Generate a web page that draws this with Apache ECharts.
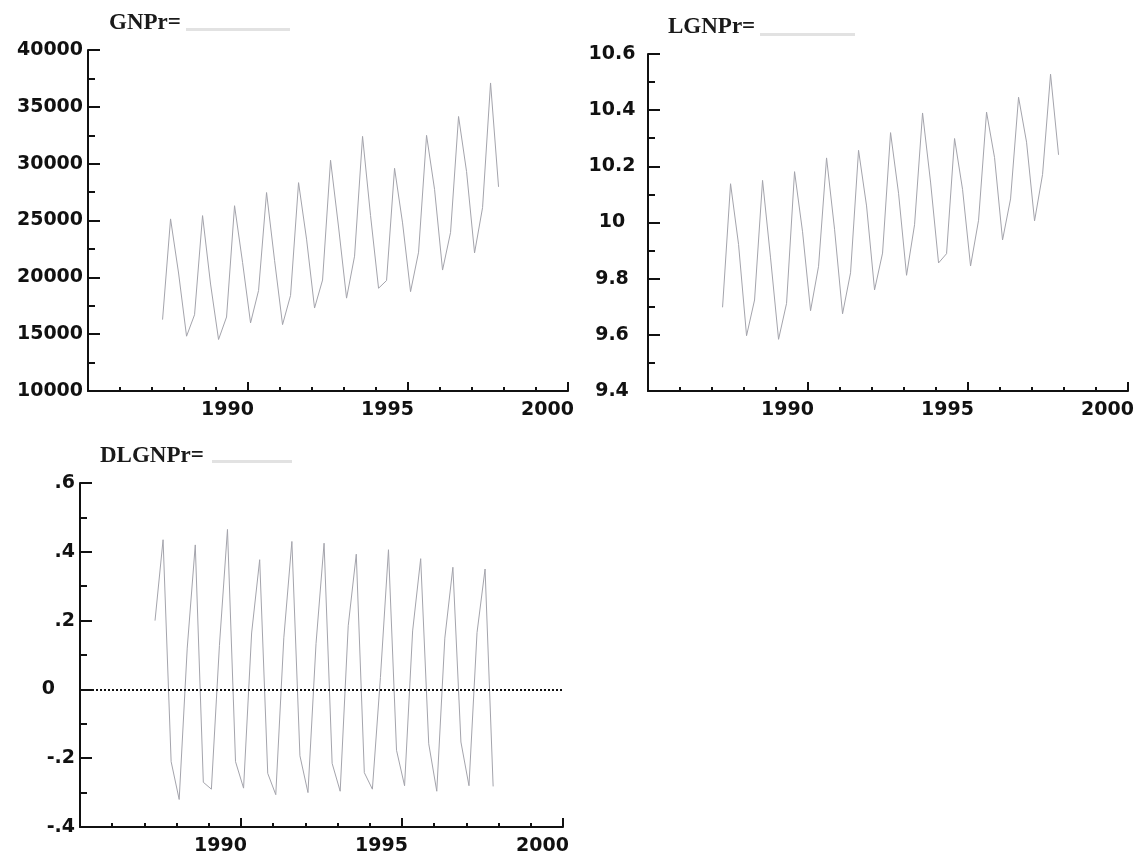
<!DOCTYPE html>
<html>
<head>
<meta charset="utf-8">
<script src="https://cdn.jsdelivr.net/npm/echarts@6/dist/echarts.min.js"></script>
<style>
html, body { margin: 0; padding: 0; background: #fff; }
#main { width: 1141px; height: 858px; }
</style>
</head>
<body>
<div id="main"></div>
<script>
// quarterly sample, 1987Q2 .. 1997Q4
var firstYear = 1987;
var firstQuarter = 2;

var gnpr = [
    16280, 25140, 20380,
    14820, 16710, 25430, 19410,
    14530, 16510, 26300, 21320,
    15990, 18840, 27460, 21500,
    15840, 18410, 28330, 23360,
    17300, 19760, 30300, 24430,
    18170, 21860, 32400, 25430,
    19040, 19720, 29590, 24790,
    18740, 22210, 32490, 27740,
    20640, 23950, 34150, 29310,
    22150, 26130, 37100, 27960
];

var lgnpr = [
    9.698, 10.138, 9.922,
    9.597, 9.724, 10.150, 9.874,
    9.584, 9.712, 10.181, 9.967,
    9.686, 9.844, 10.230, 9.976,
    9.675, 9.821, 10.257, 10.059,
    9.760, 9.891, 10.320, 10.104,
    9.812, 9.992, 10.390, 10.144,
    9.856, 9.889, 10.299, 10.118,
    9.845, 10.008, 10.393, 10.231,
    9.938, 10.084, 10.446, 10.286,
    10.006, 10.171, 10.528, 10.241
];

var dlgnpr = [
    0.200, 0.435, -0.210,
    -0.320, 0.120, 0.420, -0.270,
    -0.290, 0.128, 0.465, -0.210,
    -0.287, 0.164, 0.377, -0.244,
    -0.306, 0.150, 0.430, -0.193,
    -0.300, 0.133, 0.425, -0.215,
    -0.296, 0.185, 0.393, -0.242,
    -0.290, 0.035, 0.406, -0.177,
    -0.280, 0.170, 0.380, -0.158,
    -0.296, 0.149, 0.355, -0.153,
    -0.280, 0.165, 0.350, -0.282
];

var titles = ['GNPr=', 'LGNPr=', 'DLGNPr='];

// time index of each observation (plotted a little into the quarter)
var periods = [];
for (var i = 0; i < gnpr.length; i++) {
    var q = firstQuarter - 1 + i;
    periods.push(firstYear + Math.floor(q / 4) + (q % 4) / 4 + 0.08);
}
function pairs(vals) {
    return vals.map(function (v, i) { return [periods[i], v]; });
}

var ink = '#111';
var lineCol = '#a4a4ac';
var labelFont = { fontFamily: 'DejaVu Sans', fontWeight: 'bold', fontSize: 19, color: ink };
var titleFont = { fontFamily: 'Liberation Serif', fontWeight: 'bold', fontSize: 23, color: '#1a1a1a' };

function plain(v) { return String(v); }

function xAxis(idx) {
    return {
        type: 'value', gridIndex: idx, min: 1985, max: 2000, interval: 5,
        axisLine: { onZero: false, lineStyle: { color: ink, width: 2 } },
        axisTick: { inside: true, length: 9, lineStyle: { color: ink, width: 2 } },
        minorTick: { show: true, splitNumber: 5, length: 4, lineStyle: { color: ink, width: 2 } },
        splitLine: { show: false },
        axisLabel: Object.assign({
            formatter: plain, showMinLabel: false, margin: 10, align: 'center', padding: [0, 41, 0, 0]
        }, labelFont)
    };
}
function yAxis(idx, min, max, interval, fmt, labelOpt) {
    return {
        type: 'value', gridIndex: idx, min: min, max: max, interval: interval,
        axisLine: { show: true, onZero: false, lineStyle: { color: ink, width: 2 } },
        axisTick: { show: true, inside: true, length: 12, lineStyle: { color: ink, width: 2 } },
        minorTick: { show: true, splitNumber: 2, length: 7, lineStyle: { color: ink, width: 2 } },
        splitLine: { show: false },
        axisLabel: Object.assign({ formatter: fmt }, labelFont, labelOpt)
    };
}

function dlLabel(v) {
    var r = Math.round(v * 10) / 10;
    if (r === 0) return '{z|0}';
    return r.toFixed(1).replace('0.', '.');
}

var chart = echarts.init(document.getElementById('main'), null, { renderer: 'canvas' });

var option = {
    backgroundColor: '#ffffff',
    animation: false,
    title: [
        { text: titles[0], left: 109, top: 12, padding: 0, textStyle: titleFont },
        { text: titles[1], left: 668, top: 16, padding: 0, textStyle: titleFont },
        { text: titles[2], left: 100, top: 445, padding: 0, textStyle: titleFont }
    ],
    graphic: [
        { type: 'rect', shape: { x: 186, y: 28, width: 104, height: 3 }, style: { fill: '#e2e2e2' }, silent: true },
        { type: 'rect', shape: { x: 760, y: 33, width: 95, height: 3 }, style: { fill: '#e2e2e2' }, silent: true },
        { type: 'rect', shape: { x: 212, y: 460, width: 80, height: 3 }, style: { fill: '#e2e2e2' }, silent: true }
    ],
    grid: [
        { left: 88, top: 50, width: 480, height: 341 },
        { left: 648, top: 54, width: 480, height: 337 },
        { left: 80, top: 483, width: 483, height: 344 }
    ],
    xAxis: [xAxis(0), xAxis(1), xAxis(2)],
    yAxis: [
        yAxis(0, 10000, 40000, 5000, plain, { align: 'center', margin: 38 }),
        yAxis(1, 9.4, 10.6, 0.2, function (v) { return String(+v.toFixed(1)); }, { align: 'center', margin: 36 }),
        yAxis(2, -0.4, 0.6, 0.2, dlLabel, {
            align: 'right', margin: 5,
            rich: { z: Object.assign({ padding: [0, 20, 0, 0] }, labelFont) }
        })
    ],
    series: [
        {
            name: 'GNPr', type: 'line', xAxisIndex: 0, yAxisIndex: 0,
            data: pairs(gnpr), showSymbol: false, silent: true,
            lineStyle: { color: lineCol, width: 1 }
        },
        {
            name: 'LGNPr', type: 'line', xAxisIndex: 1, yAxisIndex: 1,
            data: pairs(lgnpr), showSymbol: false, silent: true,
            lineStyle: { color: lineCol, width: 1 }
        },
        {
            name: 'DLGNPr', type: 'line', xAxisIndex: 2, yAxisIndex: 2,
            data: pairs(dlgnpr), showSymbol: false, silent: true,
            lineStyle: { color: lineCol, width: 1 },
            markLine: {
                silent: true, symbol: ['none', 'none'], label: { show: false },
                lineStyle: { color: ink, type: [2, 2], width: 2 },
                data: [{ yAxis: 0 }]
            }
        }
    ]
};
chart.setOption(option);
</script>
</body>
</html>
